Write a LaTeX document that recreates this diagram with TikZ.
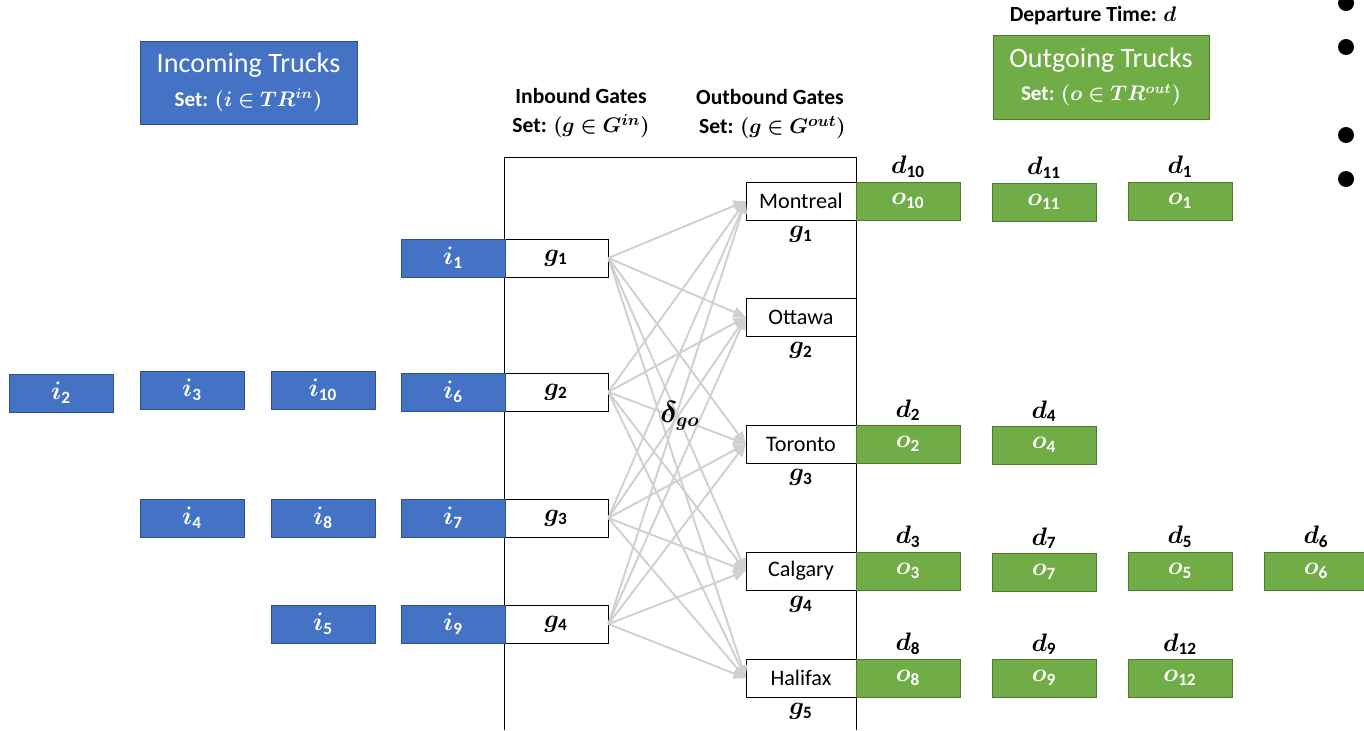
\documentclass[tikz,border=0pt]{standalone}
\usepackage{amsmath,amssymb,bm}
\usepackage{fontspec}
\setmainfont{Carlito}
\usepackage{xcolor}
\usepackage{tikz}
\usetikzlibrary{arrows.meta}
\definecolor{truckblue}{HTML}{4472C4}
\definecolor{truckgreen}{HTML}{70AD47}
\definecolor{flowgray}{HTML}{D0D0D0}

\begin{document}
\begin{tikzpicture}[x=0.02cm,y=-0.02cm,
    intruck/.style={fill=truckblue,draw=truckblue!70!black,text=white,
      minimum width=2.08cm,minimum height=0.76cm,inner sep=0pt,font=\fontsize{14}{14}\selectfont},
    outtruck/.style={fill=truckgreen,draw=truckgreen!70!black,text=white,
      minimum width=2.08cm,minimum height=0.76cm,inner sep=0pt,font=\fontsize{14}{14}\selectfont},
    ingate/.style={fill=white,draw=black,minimum width=2.08cm,minimum height=0.76cm,
      inner sep=0pt,font=\fontsize{14}{14}\selectfont},
    outgate/.style={fill=white,draw=black,minimum width=2.2cm,minimum height=0.76cm,
      inner sep=0pt,font=\fontsize{12.6}{12.6}\selectfont},
    dlabel/.style={anchor=south,inner sep=2pt,font=\fontsize{14}{14}\selectfont},
    glabel/.style={anchor=north,inner sep=3pt,font=\fontsize{14}{14}\selectfont},
    flow/.style={flowgray,line width=1.1pt,-{Triangle[length=7pt,width=6pt]}},
    settitle/.style={align=center,font=\bfseries\fontsize{12.3}{16}\selectfont}]
  \useasboundingbox (0,0) rectangle (1364,730);

  % warehouse frame
  \draw[black,thin] (504,730) -- (504,157) -- (856,157) -- (856,730);

  % set titles
  \node[intruck,minimum width=4.34cm,minimum height=1.66cm,align=center,
    font=\fontsize{16}{19}\selectfont] (intitle) at (248.5,82.5)
    {Incoming Trucks\\{\bfseries\fontsize{12}{12}\selectfont Set: $\bm{(i\in TR^{in})}$}};
  \node[outtruck,minimum width=4.32cm,minimum height=1.68cm,align=center,
    font=\fontsize{16}{19}\selectfont] (outtitle) at (1101,77)
    {Outgoing Trucks\\{\bfseries\fontsize{12}{12}\selectfont Set: $\bm{(o\in TR^{out})}$}};
  \node[settitle] (deptime) at (1093,16) {Departure Time: $\bm{d}$};
  \node[settitle] (ingates) at (581,113)
    {Inbound Gates\\[1pt]Set: $\bm{(g\in G^{in})}$};
  \node[settitle] (outgates) at (770,114)
    {Outbound Gates\\[1pt]\ Set: $\bm{(g\in G^{out})}$};

  % inbound gates
  \foreach \n/\y in {1/258,2/392,3/518,4/624}
    \node[ingate] (gin\n) at (556,\y) {$\bm{g}_{\mathbf{\n}}$};

  % outbound gates
  \foreach \n/\city/\y in {1/Montreal/201,2/Ottawa/317,3/Toronto/444,4/Calgary/571,5/Halifax/678}{
    \node[outgate] (gout\n) at (801,\y) {\city};
    \node[glabel] (goutlab\n) at (gout\n.south) {$\bm{g}_{\mathbf{\n}}$};
  }

  % flows between gates
  \foreach \a in {1,...,4}
    \foreach \b in {1,...,5}
      \draw[flow] (gin\a.east) -- (gout\b.west);
  \node[font=\fontsize{16}{16}\selectfont] (delta) at (680,416) {$\bm{\delta_{go}}$};

  % incoming trucks
  \foreach \n/\x/\y in {1/453/258,6/453/392,7/453/518,9/453/624,
                        10/323/390,8/323/518,5/323/624,
                        3/192/390,4/192/518,2/61/393}
    \node[intruck] (i\n) at (\x,\y) {$\bm{i}_{\mathbf{\n}}$};

  % outgoing trucks with departure times
  \foreach \n/\x/\y in {10/908/201,11/1044/202,1/1180/201,
                        2/908/444,4/1044/445,
                        3/908/571,7/1044/572,5/1180/571,6/1316/571,
                        8/908/678,9/1044/678,12/1180/678}{
    \node[outtruck] (o\n) at (\x,\y) {$\bm{o}_{\mathbf{\n}}$};
    \node[dlabel] (d\n) at (o\n.north) {$\bm{d}_{\mathbf{\n}}$};
  }

  % bullets at the right edge
  \foreach \y in {3,47,135,179}
    \fill[black] (1346,\y) circle (0.16cm);
\end{tikzpicture}
\end{document}
